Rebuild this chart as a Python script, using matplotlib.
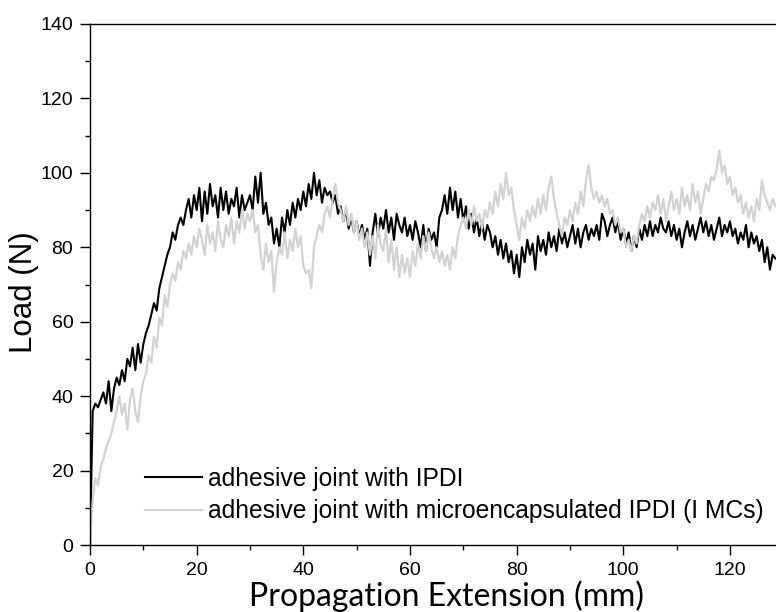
import numpy as np
import matplotlib
matplotlib.use("Agg")
import matplotlib.pyplot as plt
from matplotlib.ticker import MultipleLocator

x_step = 0.5

# Load (N) of adhesive joint with IPDI, read every 0.5 mm from 0 to 128.5 mm
load_ipdi = [
    0, 36, 38, 37, 39, 41, 38, 44, 36, 42,
    45, 43, 47, 44, 50, 48, 53, 47, 54, 49,
    54, 57, 59, 62, 65, 63, 69, 72, 75, 78,
    80, 84, 82, 86, 88, 86, 90, 93, 88, 94,
    90, 96, 87, 95, 89, 97, 91, 94, 88, 96,
    90, 95, 89, 93, 91, 96, 88, 94, 90, 92,
    94, 90, 99, 92, 100, 89, 92, 86, 88, 81,
    85, 80, 88, 84, 90, 86, 92, 88, 93, 90,
    95, 91, 97, 93, 100, 94, 98, 92, 96, 94,
    95, 92, 94, 89, 91, 87, 90, 85, 88, 84,
    87, 83, 86, 82, 85, 75, 84, 89, 83, 88,
    85, 90, 84, 88, 82, 89, 86, 84, 88, 83,
    86, 82, 87, 84, 80, 86, 79, 85, 82, 84,
    80, 88, 90, 94, 89, 96, 90, 95, 88, 93,
    87, 91, 85, 89, 84, 88, 83, 87, 82, 86,
    84, 80, 83, 78, 82, 77, 81, 76, 79, 73,
    78, 72, 80, 76, 82, 78, 81, 74, 83, 79,
    82, 78, 84, 80, 83, 79, 85, 81, 84, 80,
    83, 86, 81, 85, 80, 84, 86, 82, 85, 83,
    86, 82, 89, 87, 83, 86, 88, 84, 87, 82,
    85, 81, 84, 79, 83, 80, 85, 82, 86, 83,
    87, 83, 86, 84, 88, 85, 84, 87, 83, 86,
    82, 85, 80, 84, 87, 83, 86, 82, 85, 88,
    84, 87, 83, 86, 82, 85, 88, 83, 86, 84,
    87, 83, 85, 81, 84, 82, 86, 80, 84, 81,
    83, 79, 82, 76, 80, 74, 78, 77,
]

# Load (N) of adhesive joint with microencapsulated IPDI (I MCs)
load_mcs = [
    0, 12, 18, 16, 21, 23, 26, 28, 30, 33,
    36, 40, 35, 38, 31, 39, 42, 36, 33, 40,
    44, 46, 51, 49, 56, 53, 61, 59, 67, 64,
    70, 73, 71, 76, 74, 79, 77, 81, 78, 83,
    80, 85, 82, 78, 86, 81, 84, 79, 87, 82,
    80, 86, 83, 88, 81, 87, 84, 90, 85, 89,
    87, 90, 84, 86, 78, 74, 81, 76, 79, 68,
    76, 80, 78, 84, 77, 82, 79, 85, 80, 83,
    75, 73, 74, 69, 80, 83, 86, 84, 89, 91,
    88, 93, 97, 92, 90, 87, 91, 86, 89, 84,
    87, 82, 85, 80, 84, 78, 83, 77, 86, 81,
    79, 85, 76, 82, 74, 80, 72, 78, 73, 77,
    72, 79, 75, 81, 77, 83, 79, 84, 80, 77,
    80, 76, 79, 75, 78, 74, 80, 77, 83, 86,
    88, 85, 90, 86, 91, 87, 89, 85, 90, 88,
    92, 89, 95, 91, 97, 93, 100, 94, 96, 90,
    86, 82, 88, 85, 90, 87, 91, 88, 93, 89,
    94, 90, 96, 99, 93, 89, 86, 83, 88, 86,
    90, 87, 92, 89, 95, 91, 98, 102, 96, 93,
    95, 92, 94, 91, 93, 89, 90, 86, 88, 84,
    85, 80, 82, 79, 83, 81, 86, 89, 87, 91,
    88, 92, 90, 94, 89, 93, 87, 91, 95, 90,
    93, 89, 96, 91, 94, 90, 97, 92, 95, 89,
    93, 97, 95, 99, 98, 101, 106, 100, 102, 97,
    99, 94, 96, 92, 94, 89, 92, 88, 91, 87,
    93, 90, 98, 94, 92, 90, 93, 91,
]

series_labels = [
    "adhesive joint with IPDI",
    "adhesive joint with microencapsulated IPDI (I MCs)",
]
x_major_ticks = [0, 20, 40, 60, 80, 100, 120]
y_major_ticks = [0, 20, 40, 60, 80, 100, 120, 140]

x_ipdi = np.arange(len(load_ipdi)) * x_step
x_mcs = np.arange(len(load_mcs)) * x_step

W, H = 776, 612
fig = plt.figure(figsize=(W / 100, H / 100), dpi=100)
ax = fig.add_axes([90 / W, (H - 545) / H, (W - 90) / W, (545 - 24) / H])

l1, = ax.plot(x_ipdi, load_ipdi, color="black", lw=1.5)
l2, = ax.plot(x_mcs, load_mcs, color="#d2d2d2", lw=1.6)

ax.set_xlim(0, (W - 90) / 5.333)
ax.set_ylim(0, 140)
ax.set_xticks(x_major_ticks)
ax.set_yticks(y_major_ticks)
ax.xaxis.set_minor_locator(MultipleLocator(10))
ax.yaxis.set_minor_locator(MultipleLocator(10))
ax.spines["right"].set_visible(False)
for s in ["left", "bottom", "top"]:
    ax.spines[s].set_linewidth(1.0)
ax.tick_params(which="major", direction="out", length=7, width=1.0, pad=5,
               labelsize=14, top=False, right=False)
ax.tick_params(which="minor", direction="out", length=3.5, width=1.0,
               top=False, right=False)
for lab in ax.get_xticklabels() + ax.get_yticklabels():
    lab.set_fontfamily("Liberation Sans")

fig.text(24 / W, (H - 292) / H, "Load (N)", rotation=90, fontsize=22.5,
         family="Liberation Sans", ha="center", va="center")
fig.text(447 / W, (H - 606) / H, "Propagation Extension (mm)", fontsize=23,
         family="Lato", ha="center", va="baseline")

fig.legend([l1, l2], series_labels, loc="upper left",
           bbox_to_anchor=(145 / W, (H - 467) / H), frameon=False,
           prop={"family": "Liberation Sans", "size": 17.7},
           handlelength=2.3, handletextpad=0.25, labelspacing=0.33,
           borderpad=0, borderaxespad=0)

fig.savefig("out.png", dpi=100)
